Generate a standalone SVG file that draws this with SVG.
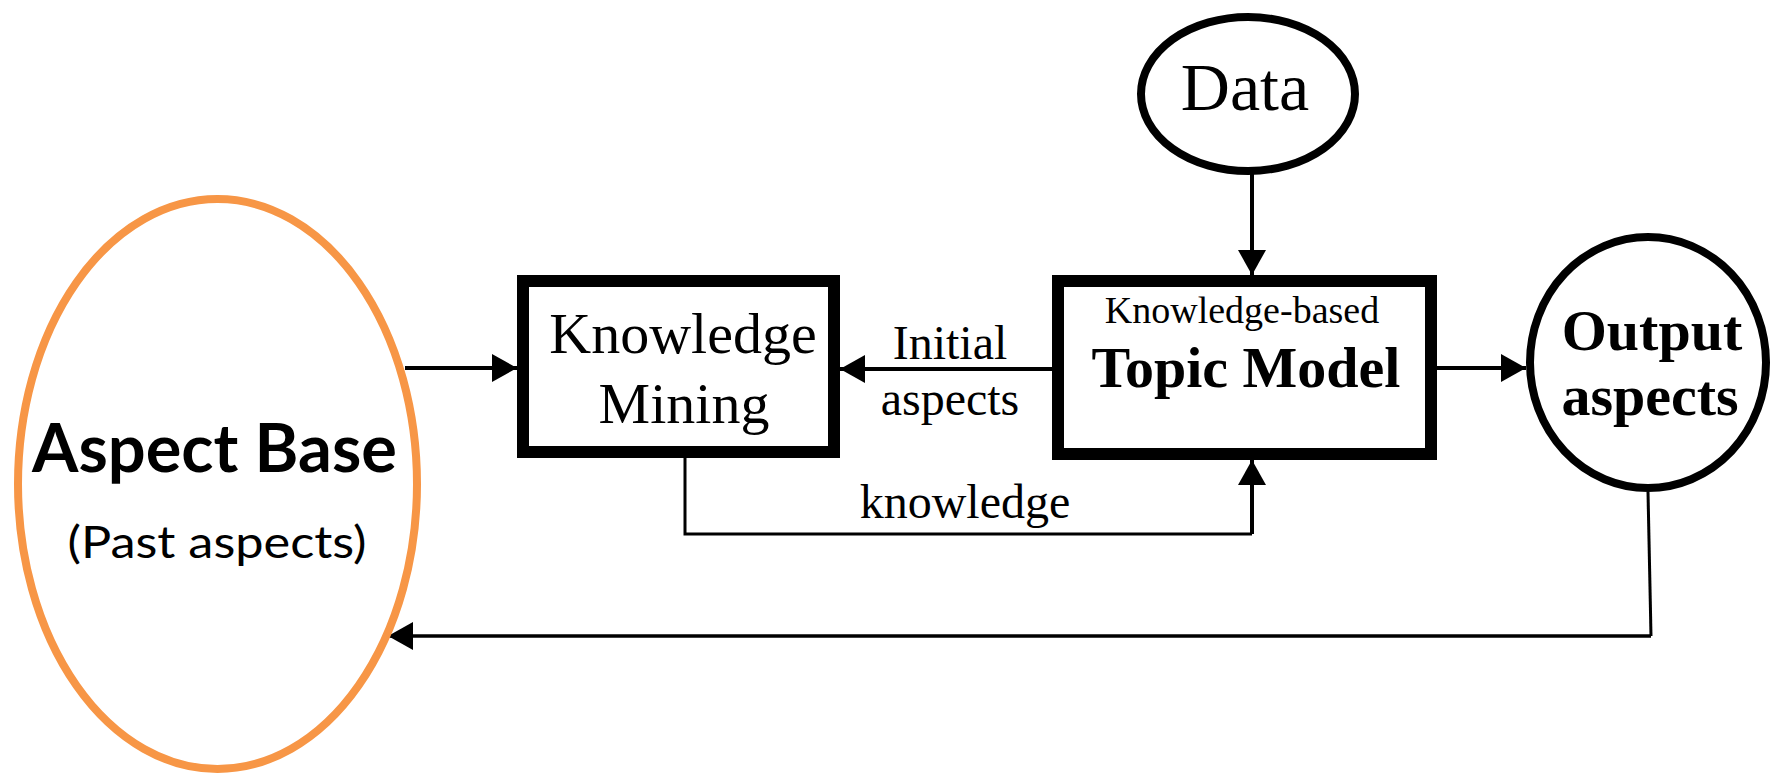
<svg xmlns="http://www.w3.org/2000/svg" width="1779" height="775" viewBox="0 0 1779 775">
<style>
.serif{font-family:"Liberation Serif","Times New Roman",serif;fill:#000}
.sans{font-family:Lato,"Liberation Sans",sans-serif;fill:#000}
.box{fill:#fff;stroke:#000;stroke-width:12;stroke-linejoin:miter}
.oval{fill:#fff;stroke:#000;stroke-width:8}
.arrow{fill:none;stroke:#000;stroke-width:4;marker-end:url(#ah)}
.thin{fill:none;stroke:#000;stroke-width:3}
</style>
<defs>
<marker id="ah" markerUnits="userSpaceOnUse" markerWidth="26" markerHeight="28" refX="25" refY="14" orient="auto">
<path d="M0,0 L25,14 L0,28 z" fill="#000"/>
</marker>
</defs>
<rect width="1779" height="775" fill="#fff"/>

<g id="connectors">
<path class="arrow" d="M405,368 H517"/>
<path class="arrow" d="M1053,369 H840"/>
<path class="arrow" d="M1252,173 V275"/>
<path class="thin" d="M685,457 V534 H1252"/>
<path class="arrow" d="M1252,534 V460"/>
<path class="arrow" d="M1437,368 H1526"/>
<path class="thin" d="M1648,492 L1651,636"/>
<path class="arrow" d="M1651,636 H388" style="stroke-width:3.5"/>
<text class="serif" x="950" y="359" font-size="48" text-anchor="middle">Initial</text>
<text class="serif" x="950" y="415" font-size="48" text-anchor="middle">aspects</text>
<text class="serif" x="965" y="518" font-size="48" text-anchor="middle">knowledge</text>
</g>

<g id="aspect-base">
<ellipse cx="217.5" cy="484" rx="199.5" ry="285" fill="#fff" stroke="#F79646" stroke-width="8"/>
<text class="sans" x="214.5" y="472" font-size="66" font-weight="bold" text-anchor="middle" textLength="365" lengthAdjust="spacingAndGlyphs">Aspect Base</text>
<text class="sans" x="217" y="558" font-size="45" text-anchor="middle" textLength="299" lengthAdjust="spacingAndGlyphs">(Past aspects)</text>
</g>

<g id="knowledge-mining">
<rect class="box" x="523" y="281" width="311" height="171"/>
<text class="serif" x="683" y="353" font-size="58" text-anchor="middle">Knowledge</text>
<text class="serif" x="684" y="423" font-size="58" text-anchor="middle">Mining</text>
</g>

<g id="data">
<ellipse class="oval" cx="1248" cy="94" rx="107" ry="77"/>
<text class="serif" x="1245" y="110" font-size="68" text-anchor="middle">Data</text>
</g>

<g id="topic-model">
<rect class="box" x="1058" y="281" width="373" height="173"/>
<text class="serif" x="1242" y="323" font-size="38" text-anchor="middle">Knowledge-based</text>
<text class="serif" x="1246" y="387" font-size="58" font-weight="bold" text-anchor="middle">Topic Model</text>
</g>

<g id="output-aspects">
<ellipse class="oval" cx="1648" cy="362.5" rx="118" ry="125.5"/>
<text class="serif" x="1652" y="350" font-size="58" font-weight="bold" text-anchor="middle">Output</text>
<text class="serif" x="1650" y="415" font-size="58" font-weight="bold" text-anchor="middle">aspects</text>
</g>
</svg>
